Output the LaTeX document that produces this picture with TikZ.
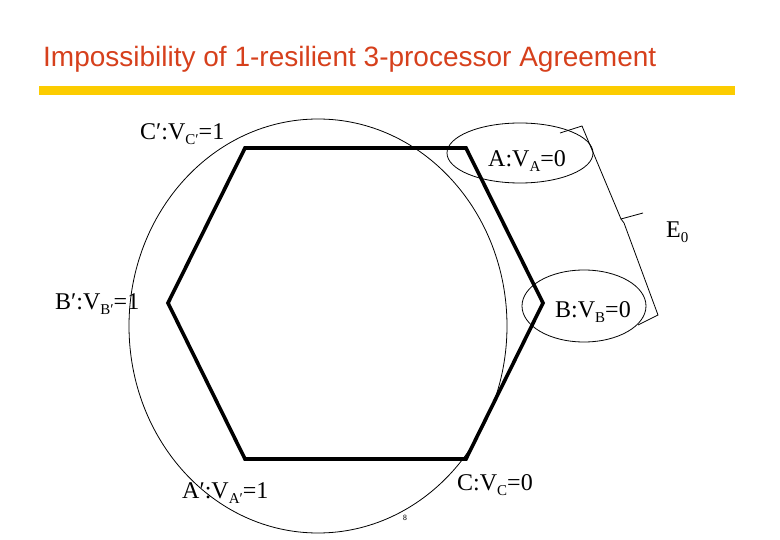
\documentclass[tikz,border=0pt]{standalone}
\usepackage{fontspec}
\setmainfont{Liberation Serif}
\newfontfamily\titlefont{Liberation Sans}
\usetikzlibrary{shapes.geometric}
\definecolor{titlered}{RGB}{214,64,28}
\definecolor{baryellow}{RGB}{252,204,0}
\newcommand{\lowsub}[1]{\raisebox{-5pt}{\fontsize{15}{15}\selectfont #1}}

\begin{document}
\begin{tikzpicture}[x=1pt,y=-1pt,
  hexline/.style={line width=3.6pt,line join=miter},
  thinline/.style={line width=0.8pt},
  viewellipse/.style={draw,ellipse,thinline,inner sep=0pt},
  proclabel/.style={anchor=base west,inner sep=0pt,font=\fontsize{24}{24}\selectfont}]
  \useasboundingbox (0,0) rectangle (780,540);
  %title
  \node[anchor=base west,inner sep=0pt,font=\titlefont\fontsize{28}{28}\selectfont,text=titlered] (title) at (43,67) {Impossibility of 1-resilient 3-processor Agreement};
  \fill[baryellow] (39,86) rectangle (735,95);

  %hexagon
  \coordinate (cp) at (245,148);
  \coordinate (a) at (466,148);
  \coordinate (b) at (543,303);
  \coordinate (c) at (466,459);
  \coordinate (ap) at (245,459);
  \coordinate (bp) at (168,303);
  \draw[hexline] (cp) -- (a) -- (b) -- (c) -- (ap) -- (bp) -- cycle;

  %views
  \node[viewellipse,minimum width=378pt,minimum height=414pt] (viewbig) at (318,326) {};
  \node[viewellipse,minimum width=146pt,minimum height=60pt] (viewa) at (520,153) {};
  \node[viewellipse,minimum width=124pt,minimum height=72pt] (viewb) at (584,306) {};
  %brace
  \draw[thinline] (560,133) -- (582,126) -- (621,219) -- (643,213);
  \draw[thinline] (621,219) -- (624,223) -- (658,315) -- (638,325);

  %labels
  \node[proclabel] (labcp) at (140,140) {C′:V\lowsub{C′}=1};
  \node[proclabel] (laba) at (488,167) {A:V\lowsub{A}=0};
  \node[proclabel] (labe) at (666,238) {E\lowsub{0}};
  \node[proclabel] (labbp) at (55,310) {B′:V\lowsub{B′}=1};
  \node[proclabel] (labb) at (555,318) {B:V\lowsub{B}=0};
  \node[proclabel] (labap) at (182,498) {A′:V\lowsub{A′}=1};
  \node[proclabel] (labc) at (457,490) {C:V\lowsub{C}=0};
  \node[font=\sffamily\fontsize{8}{8}\selectfont,inner sep=0pt] (pagenum) at (405,518) {8};
\end{tikzpicture}
\end{document}
